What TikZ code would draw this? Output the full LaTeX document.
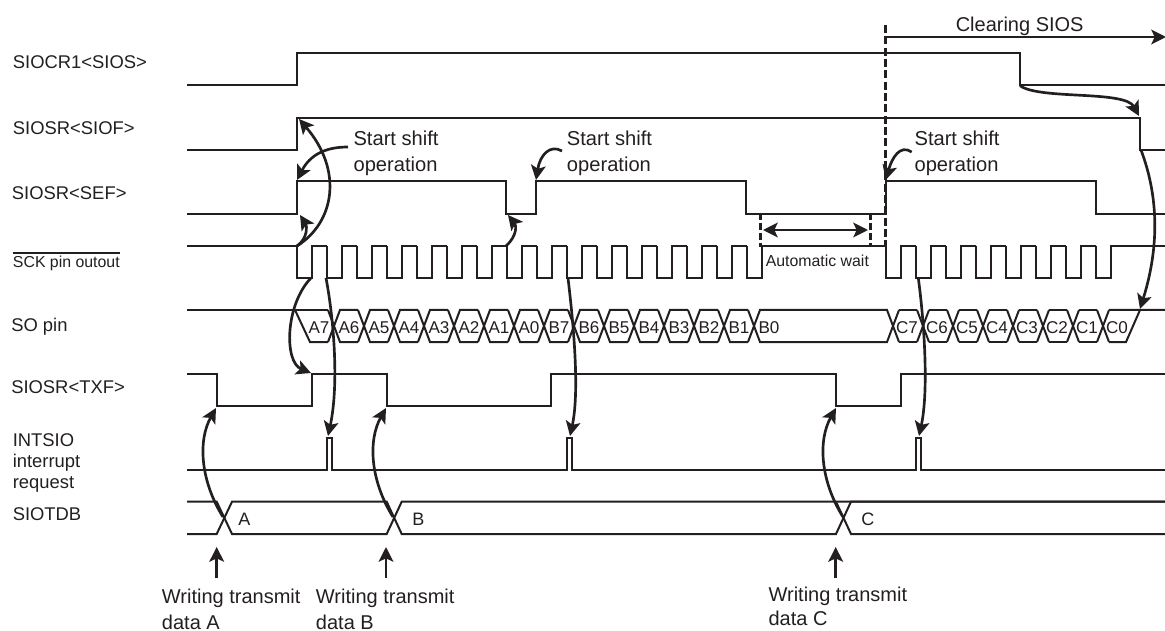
\documentclass[tikz,border=0pt]{standalone}
\usepackage{fontspec}
\setmainfont{Liberation Sans}
\usetikzlibrary{arrows.meta}
\definecolor{inkdark}{HTML}{231F20}
\begin{document}
\begin{tikzpicture}[x=0.75pt, y=-0.75pt,
    every node/.style={inner sep=0pt, anchor=base west, align=left, text=inkdark},
    sigline/.style={draw=inkdark, line width=1.5pt},
    curvearrow/.style={draw=inkdark, line width=2pt, -{Stealth[length=11pt, width=11pt, inset=2.5pt]}},
    straightarrow/.style={draw=inkdark, line width=2pt, -{Stealth[length=11pt, width=11pt, inset=2.5pt]}},
    dashline/.style={draw=inkdark, line width=1.9pt, dash pattern=on 6pt off 2.5pt},
    siglabel/.style={font=\fontsize{13.8}{15.75}\selectfont},
    smalllabel/.style={font=\fontsize{11.9}{14}\selectfont},
    datalabel/.style={anchor=base, font=\fontsize{12.8}{14}\selectfont},
    notelabel/.style={font=\fontsize{15}{19.5}\selectfont},
    shiftlabel/.style={font=\fontsize{15.1}{19.5}\selectfont}]
    \useasboundingbox (0,0) rectangle (1165,631);

    % signal names
    \node[siglabel] (sios) at (12.7,69) {SIOCR1<SIOS>};
    \node[siglabel] (siof) at (12.7,134.5) {SIOSR<SIOF>};
    \node[siglabel] (sef) at (11.7,199.3) {SIOSR<SEF>};
    \node[smalllabel] (sck) at (12.7,267.7) {SCK pin outout};
    \node[siglabel] (so) at (11,331) {SO pin};
    \node[siglabel] (txf) at (11,393.7) {SIOSR<TXF>};
    \node[siglabel] (intsio) at (12.5,446) {INTSIO};
    \node[siglabel] (intreq) at (12.5,488) {interrupt\\request};
    \node[siglabel] (tdb) at (12.5,520.7) {SIOTDB};
    \draw[sigline] ([yshift=2.5pt]sck.north west) -- ([yshift=2.5pt]sck.north east);

    % waveforms
    \draw[sigline] (187,85) -| (297,53) -| (1020,85) -- (1165,85);
    \draw[sigline] (187,149.7) -| (297,117.7) -| (1140,150) -- (1165,150);
    \draw[sigline] (187,213.7) -| (297,181.3) -| (506,213.7) -| (536,181.3) -| (746,213.7) -| (885.7,181.3) -| (1095.7,213.7) -- (1165,213.7);
    \draw[sigline] (187,245.7) -- (296.5,245.7);
    \foreach \t in {296.5,326.5,...,746.5}
        \draw[sigline] (\t,245.7) |- (\t+15,277.7) |- (\t+30,245.7);
    \draw[sigline] (761.5,245.7) -- (885.7,245.7);
    \foreach \t in {885.7,915.7,...,1095.7}
        \draw[sigline] (\t,245.7) |- (\t+15,277.7) |- (\t+30,245.7);
    \draw[sigline] (1125,245.7) -- (1165,245.7);
    \draw[sigline] (187,374) -| (216.7,406) -| (311.7,374) -| (386.7,406) -| (551,374) -| (836,406) -| (900.7,374) -- (1165,374);
    \draw[sigline] (187,470) -| (326.7,438) -| (331.7,470) -| (566.7,438) -| (571.7,470) -| (915.7,438) -| (920.7,470) -- (1165,470);

    % SO pin data
    \draw[sigline] (187,310) -- (328,310);
    \draw[sigline] (295,310) -- (310,342) -- (328,342);
    \foreach \c in {334,364,...,724}
        \draw[sigline] (\c-6,310) -- (\c+6,342) -- (\c+24,342) (\c-6,342) -- (\c+6,310) -- (\c+24,310);
    \draw[sigline] (748,310) -- (760,342) -- (887,342) -- (899,310) (748,342) -- (760,310) -- (887,310) -- (899,342);
    \foreach \c in {923,953,...,1103}
        \draw[sigline] (\c-6,310) -- (\c+6,342) (\c-6,342) -- (\c+6,310);
    \foreach \c in {893,923,...,1073}
        \draw[sigline] (\c+6,342) -- (\c+24,342) (\c+6,310) -- (\c+24,310);
    \draw[sigline] (1109,342) -- (1126,342) -- (1140,310) -- (1165,310) (1109,310) -- (1140,310);
    \foreach \lbl [count=\i from 0] in {A7,A6,A5,A4,A3,A2,A1,A0,B7,B6,B5,B4,B3,B2,B1,B0}
        \node[datalabel] (d\lbl) at (319+30*\i,333.5) {\lbl};
    \foreach \lbl [count=\i from 0] in {C7,C6,C5,C4,C3,C2,C1,C0}
        \node[datalabel] (d\lbl) at (907+30*\i,333.5) {\lbl};

    % SIOTDB
    \draw[sigline] (187,501.7) -- (216.7,501.7) -- (232,534) -- (386.7,534) -- (401.7,501.7) -- (1165,501.7);
    \draw[sigline] (187,534) -- (216.7,534) -- (232,501.7) -- (386.7,501.7) -- (401.7,534) -- (836,534) -- (851,501.7) -- (1165,501.7);
    \draw[sigline] (836,501.7) -- (851,534) -- (1165,534);
    \node[siglabel, font=\fontsize{13.5}{15}\selectfont] (dataA) at (238,525) {A};
    \node[siglabel, font=\fontsize{13.5}{15}\selectfont] (dataB) at (412,525) {B};
    \node[siglabel, font=\fontsize{13.5}{15}\selectfont] (dataC) at (861,525) {C};

    % texts
    \node[notelabel] (clearing) at (955.5,31.5) {Clearing SIOS};
    \node[shiftlabel] (shiftA) at (353.3,171.5) {Start shift\\operation};
    \node[shiftlabel] (shiftB) at (566.7,171.5) {Start shift\\operation};
    \node[shiftlabel] (shiftC) at (914.3,171.5) {Start shift\\operation};
    \node[smalllabel] (wait) at (765.5,266.5) {Automatic wait};
    \node[notelabel] (writeA) at (161.7,629) {Writing transmit\\data A};
    \node[notelabel] (writeB) at (315.7,629) {Writing transmit\\data B};
    \node[notelabel, font=\fontsize{15}{18}\selectfont] (writeC) at (768.3,625) {Writing transmit\\data C};

    % wait marks
    \coordinate (cleartop) at (885.7,25);
    \coordinate (clearbot) at (885.7,246);
    \draw[dashline] (cleartop) -- (clearbot);
    \draw[dashline, dash pattern=on 5pt off 2.5pt] (760.7,213) -- (760.7,247);
    \draw[dashline, dash pattern=on 5pt off 2.5pt] (870.7,213) -- (870.7,247);
    \coordinate (clearfrom) at (885.7,37);
    \coordinate (clearto) at (1166,37);
    \draw[straightarrow] (clearfrom) -- (clearto);
    \coordinate (waitfrom) at (763,230);
    \coordinate (waitto) at (868,230);
    \draw[straightarrow, {Stealth[length=11pt, width=11pt, inset=2.5pt]}-{Stealth[length=11pt, width=11pt, inset=2.5pt]}] (waitfrom) -- (waitto);

    % ends of the curved arrows
    \coordinate (sckfall) at (297,246);
    \coordinate (sckfallB) at (506,246);
    \coordinate (siorise) at (299,119);
    \coordinate (sefrise) at (297,180);
    \coordinate (sefriseB) at (536,180);
    \coordinate (sefriseC) at (885.7,180);
    \coordinate (sefstart) at (300,215);
    \coordinate (sefstartB) at (508,215);
    \coordinate (noteA) at (348,147);
    \coordinate (noteB) at (562,151);
    \coordinate (noteC) at (911.7,152);
    \coordinate (siosfall) at (1020,85.7);
    \coordinate (siofend) at (1139,116);
    \coordinate (siofdrop) at (1141,150);
    \coordinate (soend) at (1140,309);
    \coordinate (sckrise) at (311,278);
    \coordinate (txfrise) at (311,373);
    \foreach \nm/\fx/\tx in {A/326/328,B/568/570,C/918.3/919} {
        \coordinate (sck\nm) at (\fx,278);
        \coordinate (pulse\nm) at (\tx,436);
    }
    \foreach \nm/\fx/\tx in {A/223/216,B/393/386,C/843/836} {
        \coordinate (cross\nm) at (\fx,517);
        \coordinate (txffall\nm) at (\tx,408);
    }

    % cause and effect
    \draw[curvearrow] (sckfall) .. controls (335,222) and (343,170) .. (siorise);
    \draw[curvearrow] (noteA) .. controls (325,147) and (310,155) .. (sefrise);
    \draw[curvearrow] (sckfall) .. controls (308,238) and (307,226) .. (sefstart);
    \draw[curvearrow] (sckfallB) .. controls (518,235) and (516,225) .. (sefstartB);
    \draw[curvearrow] (noteB) .. controls (550,144) and (540,155) .. (sefriseB);
    \draw[curvearrow] (noteC) .. controls (900,144) and (892,158) .. (sefriseC);
    \draw[curvearrow] (siosfall) .. controls (1040,100) and (1125,90) .. (siofend);
    \draw[curvearrow] (siofdrop) .. controls (1158,195) and (1160,245) .. (soend);
    \draw[curvearrow] (sckrise) .. controls (285,305) and (284,362) .. (txfrise);
    \draw[curvearrow] (sckA) .. controls (334,320) and (339,385) .. (pulseA);
    \draw[curvearrow] (sckB) .. controls (573,320) and (580,390) .. (pulseB);
    \draw[curvearrow] (sckC) .. controls (924,320) and (929,390) .. (pulseC);
    \draw[curvearrow] (crossA) .. controls (200,480) and (198,440) .. (txffallA);
    \draw[curvearrow] (crossB) .. controls (370,480) and (368,440) .. (txffallB);
    \draw[curvearrow] (crossC) .. controls (820,480) and (818,440) .. (txffallC);

    % write arrows
    \coordinate (arrowA) at (216.7,578);
    \coordinate (arrowB) at (386,578);
    \coordinate (arrowC) at (835.7,578);
    \draw[straightarrow] (arrowA) -- +(0,-31);
    \draw[straightarrow] (arrowB) -- +(0,-31);
    \draw[straightarrow] (arrowC) -- +(0,-31);
\end{tikzpicture}
\end{document}
